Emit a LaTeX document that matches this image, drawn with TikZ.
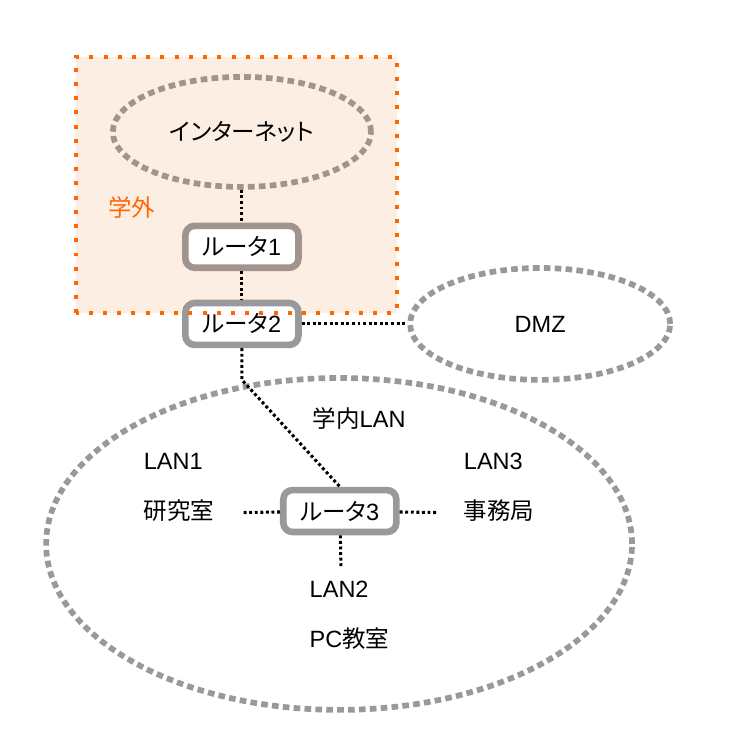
\documentclass[tikz,border=0pt]{standalone}
\usepackage{fontspec}
\setmainfont{Liberation Sans}
\newfontfamily\jpfont{Noto Sans CJK JP}
\newfontfamily\jpkana[RawFeature=+palt]{Noto Sans CJK JP}
\usepackage{tikz}
\usetikzlibrary{shapes,positioning}
\definecolor{nworange}{RGB}{255,102,0}
\definecolor{nwpeach}{RGB}{253,238,228}
\definecolor{nwtaupe}{RGB}{161,148,140}
\definecolor{nwgray}{RGB}{153,153,153}
\tikzstyle{router} = [rectangle, rounded corners=7pt, line width=5pt, fill=white, minimum width=2.99cm, minimum height=1.11cm, inner sep=0pt]
\tikzstyle{cloud} = [ellipse, line width=4.3pt, dash pattern=on 5pt off 3.2pt, inner sep=0pt]
\tikzstyle{link} = [line width=2.3pt, dash pattern=on 2.2pt off 2pt, black]

\begin{document}
\begin{tikzpicture}[font=\fontsize{17.7}{21}\selectfont]
    \useasboundingbox (0,0) rectangle (20,20);
    % outside zone
    \fill[nwpeach] (2.0,11.71) rectangle (10.49,18.49);
    \node[text=nworange] (outside) at (3.49,14.52) {\jpfont 学外};

    % clouds
    \node[cloud, draw=nwtaupe, minimum width=6.83cm, minimum height=2.91cm] (inet) at (6.40,16.51) {\jpkana インターネット};
    \node[cloud, draw=nwgray, minimum width=6.88cm, minimum height=2.96cm] (dmz) at (14.29,11.43) {DMZ};
    \node[cloud, draw=nwgray, minimum width=15.50cm, minimum height=8.78cm] (lan) at (8.97,5.61) {};

    % campus labels
    \node (campus) at (9.50,8.94) {{\jpfont 学内}LAN};
    \node[anchor=west] (lan1) at (3.68,7.80) {LAN1};
    \node[anchor=west] (lab) at (3.68,6.48) {\jpfont 研究室};
    \node[anchor=west] (lan3) at (12.15,7.80) {LAN3};
    \node[anchor=west] (office) at (12.15,6.48) {\jpfont 事務局};
    \node[anchor=west] (lan2) at (8.07,4.42) {LAN2};
    \node[anchor=west] (pcroom) at (8.07,3.10) {PC{\jpfont 教室}};

    % routers
    \node[router, draw=nwtaupe] (r1) at (6.40,13.47) {{\jpkana ルータ}1};
    \node[router, draw=nwgray] (r2) at (6.40,11.43) {{\jpkana ルータ}2};
    \node[router, draw=nwgray] (r3) at (8.99,6.48) {{\jpkana ルータ}3};

    % free ends
    \coordinate (bend) at (6.40,9.95);
    \coordinate (labend) at (6.40,6.44);
    \coordinate (officeend) at (11.59,6.44);
    \coordinate (pcend) at (9.02,5.0);

    % links
    \draw[link] (inet) -- (r1);
    \draw[link] (r1) -- (r2);
    \draw[link] (r2) -- (dmz);
    \draw[link] (r2) -- (bend) -- (r3.north);
    \draw[link] (r3) -- (labend);
    \draw[link] (r3) -- (officeend);
    \draw[link] (r3) -- (pcend);

    % zone border
    \draw[nworange, line width=3pt, dash pattern=on 3pt off 7.7pt] (2.0,11.71) rectangle (10.49,18.49);
\end{tikzpicture}
\end{document}
